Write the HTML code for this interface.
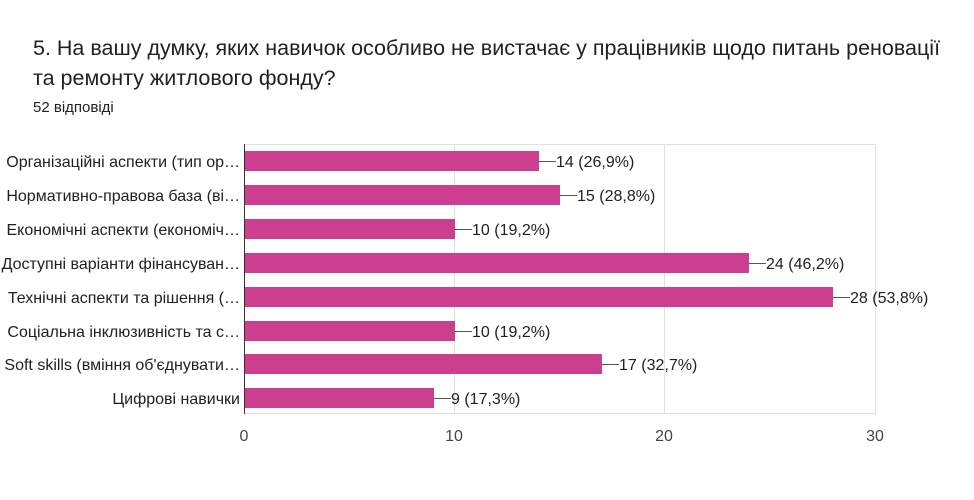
<!DOCTYPE html>
<html><head><meta charset="utf-8"><style>
body{margin:0;background:#fff;width:974px;height:495px;overflow:hidden;font-family:"Liberation Sans","DejaVu Sans",sans-serif}
</style></head><body>
<svg width="974" height="495" xmlns="http://www.w3.org/2000/svg" font-family="Liberation Sans, DejaVu Sans, sans-serif">
<text x="33" y="55" font-size="21.5" fill="#202124">5. На вашу думку, яких навичок особливо не вистачає у працівників щодо питань реновації</text>
<text x="33" y="85" font-size="21.5" fill="#202124">та ремонту житлового фонду?</text>
<text x="33" y="112" font-size="15" fill="#202124">52 відповіді</text>
<g stroke="#e0e0e0" stroke-width="1">
<line x1="454.5" y1="144" x2="454.5" y2="414"/>
<line x1="664.5" y1="144" x2="664.5" y2="414"/>
<line x1="875.5" y1="144" x2="875.5" y2="414"/>
<line x1="244" y1="144.5" x2="875" y2="144.5"/>
<line x1="244" y1="413.5" x2="875" y2="413.5"/>
</g>
<g font-size="16" fill="#444" text-anchor="middle">
<text x="244" y="441">0</text><text x="454" y="441">10</text><text x="664" y="441">20</text><text x="875" y="441">30</text>
</g>
<g font-size="16" fill="#202124" text-anchor="end">
<text x="240" y="167">Організаційні аспекти (тип ор…</text>
<text x="240" y="201">Нормативно-правова база (ві…</text>
<text x="240" y="235">Економічні аспекти (економіч…</text>
<text x="240" y="269">Доступні варіанти фінансуван…</text>
<text x="240" y="303">Технічні аспекти та рішення (…</text>
<text x="240" y="337">Соціальна інклюзивність та с…</text>
<text x="240" y="370">Soft skills (вміння об'єднувати…</text>
<text x="240" y="404">Цифрові навички</text>
</g>
<g fill="#cc3f8e">
<rect x="245" y="151" width="294" height="20"/>
<rect x="245" y="185" width="315" height="20"/>
<rect x="245" y="219" width="210" height="20"/>
<rect x="245" y="253" width="504" height="20"/>
<rect x="245" y="287" width="588" height="20"/>
<rect x="245" y="321" width="210" height="20"/>
<rect x="245" y="354" width="357" height="20"/>
<rect x="245" y="388" width="189" height="20"/>
</g>
<g stroke="#555" stroke-width="1">
<line x1="539" y1="161.5" x2="556" y2="161.5"/>
<line x1="560" y1="195.5" x2="577" y2="195.5"/>
<line x1="455" y1="229.5" x2="472" y2="229.5"/>
<line x1="749" y1="263.5" x2="766" y2="263.5"/>
<line x1="833" y1="297.5" x2="850" y2="297.5"/>
<line x1="455" y1="331.5" x2="472" y2="331.5"/>
<line x1="602" y1="364.5" x2="619" y2="364.5"/>
<line x1="434" y1="398.5" x2="451" y2="398.5"/>
</g>
<g font-size="16" fill="#202124">
<text x="556" y="167">14 (26,9%)</text>
<text x="577" y="201">15 (28,8%)</text>
<text x="472" y="235">10 (19,2%)</text>
<text x="766" y="269">24 (46,2%)</text>
<text x="850" y="303">28 (53,8%)</text>
<text x="472" y="337">10 (19,2%)</text>
<text x="619" y="370">17 (32,7%)</text>
<text x="451" y="404">9 (17,3%)</text>
</g>
<line x1="244.5" y1="144" x2="244.5" y2="414" stroke="#333" stroke-width="1"/>
</svg>
</body></html>
